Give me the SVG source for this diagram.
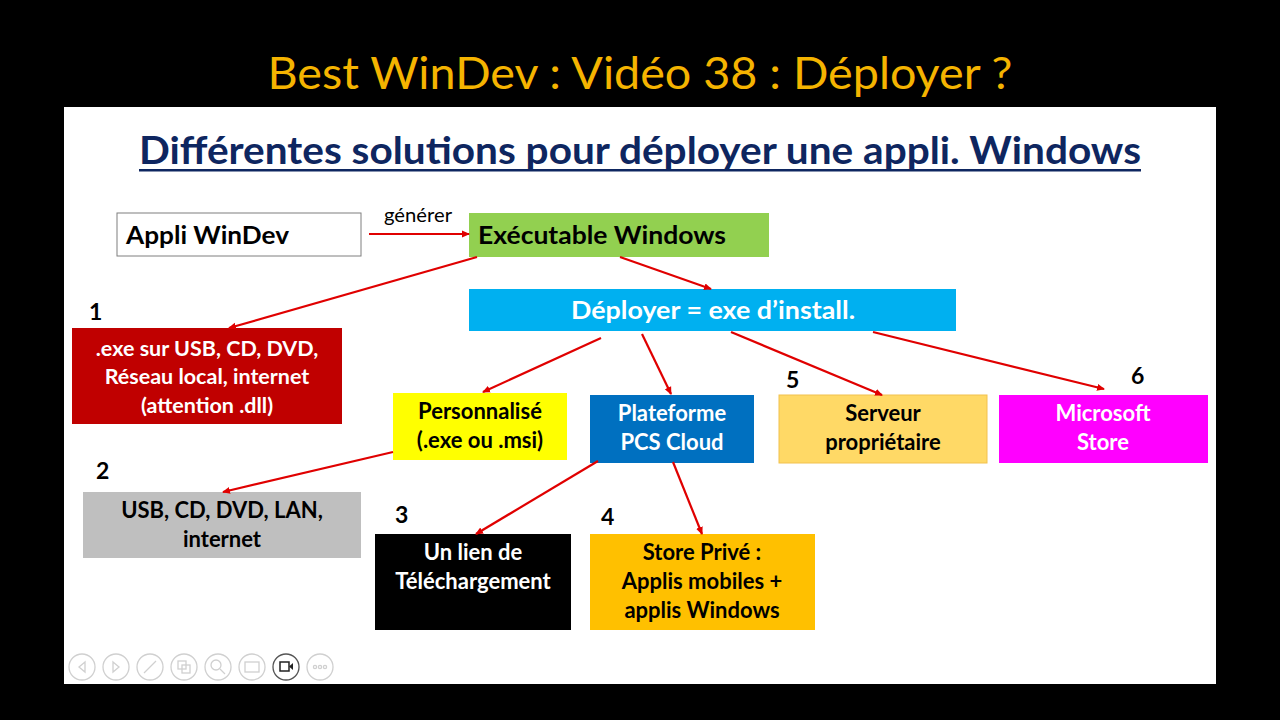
<svg xmlns="http://www.w3.org/2000/svg" width="1280" height="720" viewBox="0 0 1280 720">
<defs>
<marker id="ah" markerWidth="8" markerHeight="8" refX="7" refY="4" orient="auto" markerUnits="userSpaceOnUse">
<path d="M0,0.5 L8,4 L0,7.5 z" fill="#E00000"/>
</marker>
<style>
.t{font-family:Lato,"Open Sans","Liberation Sans",sans-serif;font-weight:bold}
.c{text-anchor:middle}
.w{fill:#fff}
.k{fill:#000}
.n{font-size:22px}
.num{font-family:Lato,"Liberation Sans",sans-serif;font-weight:bold;font-size:23px;fill:#000}
.conn line{stroke:#E00000;stroke-width:2.2;marker-end:url(#ah)}
.ic{fill:none;stroke:#d0d0d0;stroke-width:1.3}
</style>
</defs>
<rect x="0" y="0" width="1280" height="720" fill="#000"/>
<rect x="64" y="107" width="1152" height="577" fill="#fff"/>
<text x="640" y="89" class="c" font-family="Lato,'Open Sans',sans-serif" font-size="44" fill="#F5B400" textLength="745" lengthAdjust="spacingAndGlyphs">Best WinDev : Vidéo 38 : Déployer ?</text>
<g id="subtitle">
<text x="640" y="164" class="t c" font-size="38" fill="#0E2660" textLength="1002" lengthAdjust="spacingAndGlyphs">Différentes solutions pour déployer une appli. Windows</text>
<rect x="139" y="169" width="1002" height="2.5" fill="#0E2660"/>
</g>
<g id="appli">
<rect x="117" y="213" width="244" height="43" fill="#fff" stroke="#7f7f7f" stroke-width="1"/>
<text x="126" y="244" class="t k" font-size="25" textLength="163" lengthAdjust="spacingAndGlyphs">Appli WinDev</text>
</g>
<g id="exe">
<rect x="469" y="213" width="300" height="44" fill="#92D050"/>
<text x="478" y="244" class="t k" font-size="25" textLength="248" lengthAdjust="spacingAndGlyphs">Exécutable Windows</text>
</g>
<g id="deployer">
<rect x="469" y="289" width="487" height="42" fill="#00B0F0"/>
<text x="713" y="319" class="t c w" font-size="24" textLength="284" lengthAdjust="spacingAndGlyphs">Déployer = exe d’install.</text>
</g>
<g id="n1">
<text x="89" y="320" class="num">1</text>
<rect x="72" y="328" width="270" height="96" fill="#C00000"/>
<text x="207" y="356" class="t c w" font-size="21.5">.exe sur USB, CD, DVD,</text>
<text x="207" y="384" class="t c w" font-size="21.5">Réseau local, internet</text>
<text x="207" y="413" class="t c w" font-size="21.5">(attention .dll)</text>
</g>
<g id="perso">
<rect x="393" y="393" width="174" height="67" fill="#FFFF00"/>
<text x="480" y="419" class="t c k n">Personnalisé</text>
<text x="480" y="448" class="t c k n">(.exe ou .msi)</text>
</g>
<g id="pcs">
<rect x="590" y="395" width="164" height="68" fill="#0070C0"/>
<text x="672" y="421" class="t c w n">Plateforme</text>
<text x="672" y="450" class="t c w n">PCS Cloud</text>
</g>
<g id="n5">
<text x="786" y="388" class="num">5</text>
<rect x="779" y="395" width="208" height="68" fill="#FFD966" stroke="#F2C14E" stroke-width="1"/>
<text x="883" y="421" class="t c k n">Serveur</text>
<text x="883" y="450" class="t c k n">propriétaire</text>
</g>
<g id="n6">
<text x="1131" y="384" class="num">6</text>
<rect x="999" y="395" width="209" height="68" fill="#FF00FF"/>
<text x="1103" y="421" class="t c w n">Microsoft</text>
<text x="1103" y="450" class="t c w n">Store</text>
</g>
<g id="n2">
<text x="96" y="479" class="num">2</text>
<rect x="83" y="492" width="278" height="66" fill="#BFBFBF"/>
<text x="222" y="518" class="t c k n">USB, CD, DVD, LAN,</text>
<text x="222" y="547" class="t c k n">internet</text>
</g>
<g id="n3">
<text x="395" y="523" class="num">3</text>
<rect x="375" y="534" width="196" height="96" fill="#000"/>
<text x="473" y="560" class="t c w n">Un lien de</text>
<text x="473" y="589" class="t c w n">Téléchargement</text>
</g>
<g id="n4">
<text x="601" y="525" class="num">4</text>
<rect x="590" y="534" width="225" height="96" fill="#FFC000"/>
<text x="702" y="560" class="t c k n">Store Privé :</text>
<text x="702" y="589" class="t c k n">Applis mobiles +</text>
<text x="702" y="618" class="t c k n">applis Windows</text>
</g>
<g id="connectors" class="conn">
<line x1="369" y1="234" x2="469" y2="234"/>
<line x1="477" y1="257" x2="229" y2="328"/>
<line x1="620" y1="257" x2="711" y2="289"/>
<line x1="601" y1="338" x2="483" y2="392"/>
<line x1="642" y1="334" x2="671" y2="394"/>
<line x1="731" y1="332" x2="882" y2="395"/>
<line x1="873" y1="332" x2="1104" y2="389"/>
<line x1="393" y1="452" x2="223" y2="492"/>
<line x1="598" y1="461" x2="476" y2="534"/>
<line x1="673" y1="462" x2="702" y2="534"/>
</g>
<text x="418" y="222" class="c" font-family="Lato,'Open Sans',sans-serif" font-size="19" fill="#000" textLength="68" lengthAdjust="spacingAndGlyphs">générer</text>
<g id="toolbar">
<circle cx="82" cy="667" r="13" class="ic"/>
<path d="M85,662 L79,667 L85,672 z" class="ic"/>
<circle cx="116" cy="667" r="13" class="ic"/>
<path d="M113,662 L119,667 L113,672 z" class="ic"/>
<circle cx="150" cy="667" r="13" class="ic"/>
<path d="M144,673 L156,661" class="ic" stroke-width="2.5"/>
<circle cx="184" cy="667" r="13" class="ic"/>
<rect x="178" y="661" width="8" height="8" class="ic"/>
<rect x="182" y="665" width="8" height="8" class="ic"/>
<circle cx="218" cy="667" r="13" class="ic"/>
<circle cx="216" cy="665" r="5" class="ic"/>
<path d="M220,669 L225,674" class="ic" stroke-width="2"/>
<circle cx="252" cy="667" r="13" class="ic"/>
<rect x="245" y="662" width="14" height="10" class="ic"/>
<circle cx="286" cy="667" r="13" fill="none" stroke="#555" stroke-width="1.3"/>
<rect x="280" y="662" width="9" height="9" fill="none" stroke="#222" stroke-width="1.5"/>
<path d="M289,666.5 L293,663 L293,670 z" fill="#222"/>
<circle cx="320" cy="667" r="13" class="ic"/>
<circle cx="315" cy="667" r="1.6" class="ic"/>
<circle cx="320" cy="667" r="1.6" class="ic"/>
<circle cx="325" cy="667" r="1.6" class="ic"/>
</g>
</svg>
